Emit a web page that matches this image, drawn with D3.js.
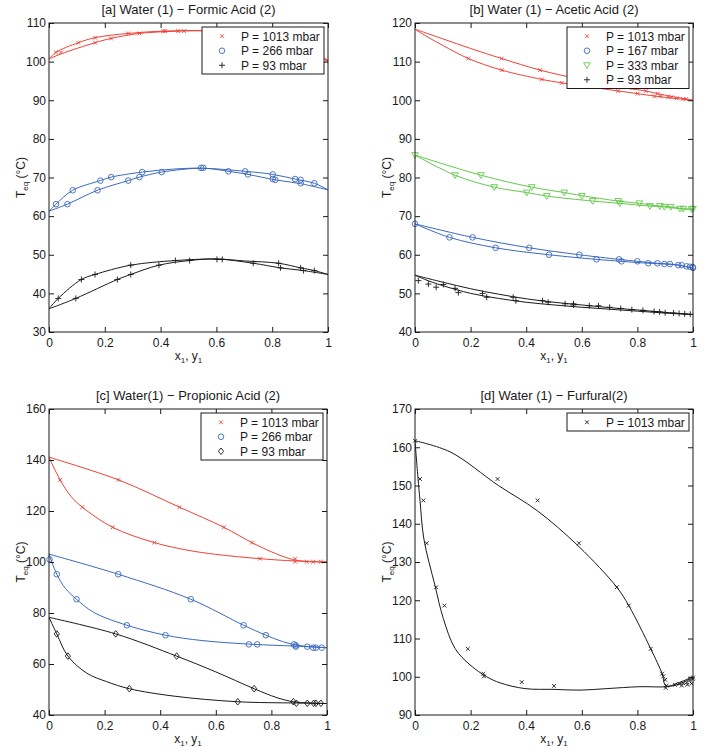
<!DOCTYPE html>
<html><head><meta charset="utf-8">
<script src="https://cdn.jsdelivr.net/npm/d3@7"></script>
<style>body{margin:0;background:#fff}svg{display:block;font-family:"Liberation Sans",Arial,Helvetica,sans-serif}</style>
</head><body><script>
// ---------- tick values ----------
const xTicks = [0, 0.2, 0.4, 0.6, 0.8, 1];
const aYTicks = [30, 40, 50, 60, 70, 80, 90, 100, 110];
const bYTicks = [40, 50, 60, 70, 80, 90, 100, 110, 120];
const cYTicks = [40, 60, 80, 100, 120, 140, 160];
const dYTicks = [90, 100, 110, 120, 130, 140, 150, 160, 170];
const titles = ["[a] Water (1) \u2212 Formic Acid (2)", "[b] Water (1) \u2212 Acetic Acid (2)",
  "[c] Water(1) \u2212 Propionic Acid (2)", "[d] Water (1) \u2212 Furfural(2)"];
const aLegend = ["P = 1013 mbar", "P = 266 mbar", "P = 93 mbar"];
const bLegend = ["P = 1013 mbar", "P = 167 mbar", "P = 333 mbar", "P = 93 mbar"];
const cLegend = ["P = 1013 mbar", "P = 266 mbar", "P = 93 mbar"];
const dLegend = ["P = 1013 mbar"];

// ---------- panel a: Water - Formic acid ----------
const aRedPts = [[0.025,102.4],[0.043,102.4],[0.105,104.9],[0.165,106.2],[0.165,104.9],[0.222,106.0],[0.284,107.3],[0.324,107.3],[0.41,107.9],[0.416,107.9],[0.463,107.9],[0.484,107.9],[0.56,107.9],[0.62,107.7],[0.7,107.1],[0.78,106.1],[0.86,104.6],[0.93,102.8],[0.993,100.3]];
const aRedDew = [[0,100.7],[0.025,102.4],[0.105,104.9],[0.165,106.2],[0.284,107.3],[0.41,107.9],[0.55,108.0],[0.7,107.5],[0.8,106.6],[0.9,104.6],[1,100.2]];
const aRedBub = [[0,100.7],[0.043,102.0],[0.165,104.9],[0.222,106.0],[0.324,107.3],[0.463,107.9],[0.55,108.0],[0.7,107.2],[0.8,106.1],[0.9,104.0],[1,100.2]];
const aBluePts = [[0.025,63.1],[0.066,63.1],[0.085,66.7],[0.174,66.7],[0.184,69.2],[0.223,70.1],[0.284,69.2],[0.324,70.1],[0.334,71.4],[0.404,71.4],[0.545,72.5],[0.553,72.5],[0.643,71.6],[0.703,71.6],[0.713,70.8],[0.802,70.8],[0.802,69.6],[0.811,69.4],[0.882,69.6],[0.902,69.4],[0.902,68.5],[0.951,68.5]];
const aBlueDew = [[0,61.3],[0.025,63.1],[0.085,66.7],[0.184,69.2],[0.223,70.1],[0.334,71.4],[0.45,72.2],[0.55,72.4],[0.703,71.6],[0.802,70.8],[0.882,69.6],[0.951,68.5],[1,66.8]];
const aBlueBub = [[0,61.3],[0.066,63.1],[0.174,66.7],[0.284,69.2],[0.324,70.1],[0.404,71.4],[0.55,72.4],[0.643,71.6],[0.713,70.8],[0.811,69.4],[0.902,68.4],[1,66.8]];
const aBlackPts = [[0.033,38.7],[0.096,38.7],[0.116,43.6],[0.165,44.9],[0.245,43.6],[0.293,47.3],[0.293,44.9],[0.394,47.3],[0.453,48.5],[0.504,48.5],[0.602,48.8],[0.621,48.8],[0.732,47.8],[0.823,47.8],[0.83,46.6],[0.902,46.6],[0.912,45.9],[0.951,45.9]];
const aBlackDew = [[0,36.0],[0.033,38.7],[0.116,43.6],[0.165,44.9],[0.293,47.3],[0.453,48.5],[0.6,48.9],[0.7,48.4],[0.823,47.8],[0.902,46.6],[0.951,45.9],[1,44.9]];
const aBlackBub = [[0,36.0],[0.096,38.7],[0.245,43.6],[0.293,44.9],[0.394,47.3],[0.504,48.5],[0.6,48.9],[0.732,47.8],[0.83,46.6],[0.912,45.9],[1,44.9]];

// ---------- panel b: Water - Acetic acid ----------
const bRedPts = [[0.192,110.8],[0.312,110.8],[0.312,107.8],[0.45,107.8],[0.456,105.4],[0.6,105.4],[0.528,104.5],[0.66,104.5],[0.731,102.4],[0.83,102.4],[0.801,101.7],[0.873,101.7],[0.861,101.0],[0.885,101.0],[0.911,100.8],[0.923,100.8],[0.941,100.5],[0.965,100.3],[0.975,100.3]];
const bRedDew = [[0,118.4],[0.1,115.9],[0.2,113.4],[0.312,110.8],[0.45,107.8],[0.6,105.3],[0.7,103.7],[0.83,102.4],[0.873,101.7],[0.93,100.9],[1,100]];
const bRedBub = [[0,118.4],[0.05,116.2],[0.1,114.2],[0.192,110.8],[0.312,107.8],[0.456,105.4],[0.528,104.5],[0.731,102.4],[0.801,101.7],[0.861,101.1],[0.92,100.6],[1,100]];
const bBluePts = [[0,68.0],[0.124,64.5],[0.207,64.5],[0.29,61.8],[0.411,61.8],[0.482,60.0],[0.591,60.0],[0.653,58.8],[0.734,58.8],[0.743,58.3],[0.8,58.3],[0.839,57.8],[0.872,57.8],[0.897,57.6],[0.917,57.6],[0.947,57.3],[0.959,57.3],[0.977,57.0],[0.989,56.9],[0.999,56.8],[1.0,56.6]];
const bBlueDew = [[0,68.0],[0.207,64.5],[0.411,61.8],[0.591,60.0],[0.734,58.8],[0.8,58.3],[0.872,57.8],[0.917,57.6],[0.959,57.2],[1,56.5]];
const bBlueBub = [[0,68.0],[0.124,64.5],[0.29,61.8],[0.482,60.0],[0.653,58.8],[0.743,58.3],[0.839,57.8],[0.897,57.6],[0.947,57.3],[1,56.5]];
const bGreenPts = [[0,85.8],[0.144,80.6],[0.237,80.6],[0.285,77.5],[0.42,77.5],[0.402,76.1],[0.537,76.1],[0.474,75.2],[0.6,75.2],[0.639,73.9],[0.731,73.9],[0.737,73.3],[0.807,73.3],[0.845,72.6],[0.881,72.6],[0.897,72.4],[0.92,72.4],[0.953,71.9],[0.965,71.9],[0.995,71.8],[1.0,71.9]];
const bGreenDew = [[0,85.8],[0.237,80.6],[0.42,77.5],[0.537,76.1],[0.6,75.3],[0.731,73.9],[0.807,73.3],[0.881,72.6],[0.92,72.4],[0.965,71.9],[1,71.8]];
const bGreenBub = [[0,85.8],[0.144,80.6],[0.285,77.5],[0.402,76.1],[0.474,75.2],[0.639,73.9],[0.737,73.3],[0.845,72.6],[0.897,72.4],[0.953,71.9],[1,71.8]];
const bBlackPts = [[0.012,53.3],[0.048,52.4],[0.076,51.6],[0.102,52.3],[0.144,51.3],[0.156,50.2],[0.243,50.0],[0.258,49.0],[0.353,49.0],[0.363,48.1],[0.459,48.1],[0.479,47.7],[0.54,47.3],[0.57,47.3],[0.57,47.0],[0.627,46.8],[0.66,46.8],[0.7,46.4],[0.74,46.1],[0.78,45.8],[0.82,45.6],[0.86,45.3],[0.88,45.2],[0.9,45.0],[0.93,44.9],[0.95,44.8],[0.97,44.7],[0.99,44.6]];
const bBlackDew = [[0,54.7],[0.1,52.9],[0.2,51.2],[0.3,49.8],[0.4,48.6],[0.5,47.7],[0.6,47.0],[0.7,46.3],[0.8,45.7],[0.9,45.1],[1,44.5]];
const bBlackBub = [[0,54.7],[0.05,53.2],[0.1,52.0],[0.2,50.0],[0.3,48.7],[0.4,47.7],[0.5,47.0],[0.6,46.4],[0.7,45.9],[0.8,45.4],[0.9,44.9],[1,44.5]];

// ---------- panel c: Water - Propionic acid ----------
const cRedPts = [[0.04,132.2],[0.25,132.2],[0.12,121.5],[0.469,121.5],[0.229,113.6],[0.629,113.6],[0.379,107.6],[0.73,107.6],[0.759,101.3],[0.885,101.3],[0.885,100.1],[0.927,100.1],[0.95,100.1],[0.978,100.1]];
const cRedDew = [[0,141.1],[0.25,132.2],[0.469,121.5],[0.629,113.6],[0.73,107.6],[0.8,104.0],[0.86,101.5],[0.9,100.5],[0.95,100.1],[1,100.0]];
const cRedBub = [[0,141.1],[0.04,132.2],[0.08,125.6],[0.12,121.5],[0.229,113.6],[0.379,107.6],[0.5,104.6],[0.6,103.0],[0.759,101.3],[0.885,100.4],[1,100]];
const cBluePts = [[0.002,101.0],[0.028,95.2],[0.249,95.2],[0.099,85.4],[0.51,85.4],[0.28,75.2],[0.7,75.2],[0.419,71.3],[0.78,71.3],[0.719,67.7],[0.749,67.7],[0.881,67.7],[0.888,67.3],[0.888,66.8],[0.929,66.8],[0.95,66.4],[0.96,66.4],[0.981,66.4]];
const cBlueDew = [[0,103.1],[0.249,95.2],[0.51,85.4],[0.7,75.2],[0.78,71.3],[0.84,68.8],[0.89,67.4],[0.95,66.7],[1,66.4]];
const cBlueBub = [[0,103.1],[0.028,95.2],[0.06,89.5],[0.099,85.4],[0.16,80.3],[0.28,75.2],[0.419,71.3],[0.55,69.2],[0.719,67.8],[0.888,67.0],[1,66.4]];
const cBlackPts = [[0.028,71.8],[0.24,71.8],[0.068,63.1],[0.459,63.1],[0.289,50.3],[0.738,50.3],[0.679,45.2],[0.879,45.2],[0.89,44.6],[0.929,44.6],[0.952,44.6],[0.96,44.6],[0.978,44.6]];
const cBlackDew = [[0,78.3],[0.24,71.8],[0.459,63.1],[0.6,56.9],[0.738,50.3],[0.82,46.8],[0.879,45.2],[0.94,44.7],[1,44.5]];
const cBlackBub = [[0,78.3],[0.028,71.8],[0.068,63.1],[0.136,56.4],[0.207,53.1],[0.289,50.3],[0.45,47.4],[0.679,45.2],[0.89,44.7],[1,44.5]];

// ---------- panel d: Water - Furfural ----------
const dPts = [[0,161.7],[0.018,151.7],[0.297,151.7],[0.03,146.1],[0.441,146.1],[0.042,134.9],[0.59,134.9],[0.076,123.4],[0.726,123.4],[0.106,118.6],[0.769,118.6],[0.19,107.3],[0.848,107.3],[0.246,100.8],[0.248,100.1],[0.384,98.6],[0.5,97.6],[0.889,100.8],[0.893,100.1],[0.9,99.2],[0.905,97.7],[0.902,97.1],[0.935,97.9],[0.951,98.1],[0.965,98.3],[0.977,98.5],[0.989,99.0],[0.999,99.4],[1.0,99.8],[0.96,97.7],[0.98,97.9],[0.995,98.2]];
const dDew = [[0,161.7],[0.126,158.8],[0.3,150.0],[0.44,143.4],[0.59,134.0],[0.726,123.4],[0.769,118.6],[0.848,107.3],[0.889,100.8],[0.903,97.6],[0.95,98.5],[1,100]];
const dBub = [[0,161.7],[0.011,151.7],[0.018,146.1],[0.032,136.0],[0.072,123.8],[0.102,115.2],[0.144,107.4],[0.198,103.1],[0.258,100.0],[0.306,98.4],[0.396,96.9],[0.5,96.7],[0.594,96.5],[0.69,96.9],[0.809,97.4],[0.905,97.4],[0.95,98.1],[1,99.8]];

// ---------- colours ----------
const RED = "#ef4136", BLUE = "#3a68bf", GREEN = "#63c94a", BLACK = "#1a1a1a";

const panels = [
  {L:49, R:328, T:23, B:332, yDom:[30,110], yTicks:aYTicks, title:titles[0], series:[
    {pts:aRedPts, dew:aRedDew, bub:aRedBub, color:RED, marker:"x", label:aLegend[0]},
    {pts:aBluePts, dew:aBlueDew, bub:aBlueBub, color:BLUE, marker:"o", label:aLegend[1]},
    {pts:aBlackPts, dew:aBlackDew, bub:aBlackBub, color:BLACK, marker:"+", label:aLegend[2]}]},
  {L:415, R:693, T:23, B:332, yDom:[40,120], yTicks:bYTicks, title:titles[1], series:[
    {pts:bRedPts, dew:bRedDew, bub:bRedBub, color:RED, marker:"x", label:bLegend[0]},
    {pts:bBluePts, dew:bBlueDew, bub:bBlueBub, color:BLUE, marker:"o", label:bLegend[1]},
    {pts:bGreenPts, dew:bGreenDew, bub:bGreenBub, color:GREEN, marker:"v", label:bLegend[2]},
    {pts:bBlackPts, dew:bBlackDew, bub:bBlackBub, color:BLACK, marker:"+", label:bLegend[3]}]},
  {L:49, R:327, T:409, B:715, yDom:[40,160], yTicks:cYTicks, title:titles[2], series:[
    {pts:cRedPts, dew:cRedDew, bub:cRedBub, color:RED, marker:"x", label:cLegend[0]},
    {pts:cBluePts, dew:cBlueDew, bub:cBlueBub, color:BLUE, marker:"o", label:cLegend[1]},
    {pts:cBlackPts, dew:cBlackDew, bub:cBlackBub, color:BLACK, marker:"d", label:cLegend[2]}]},
  {L:415, R:693, T:409, B:715, yDom:[90,170], yTicks:dYTicks, title:titles[3], series:[
    {pts:dPts, dew:dDew, bub:dBub, color:BLACK, marker:"x", label:dLegend[0]}]}
];

const svg = d3.select("body").append("svg").attr("width", 705).attr("height", 747);

function drawMarker(sel, type, color) {
  if (type === "o") {
    sel.append("circle").attr("r", 2.8).attr("fill", "none").attr("stroke", color).attr("stroke-width", 0.9);
    return;
  }
  let d;
  if (type === "x") { const s = 1.9; d = `M${-s},${-s}L${s},${s}M${-s},${s}L${s},${-s}`; }
  else if (type === "+") { const s = 3; d = `M${-s},0L${s},0M0,${-s}L0,${s}`; }
  else if (type === "v") { const s = 3.3; d = `M${-s},${-s*0.75}L${s},${-s*0.75}L0,${s}Z`; }
  else if (type === "d") { const s = 3.3; d = `M0,${-s}L${s*0.8},0L0,${s}L${-s*0.8},0Z`; }
  sel.append("path").attr("d", d).attr("fill", "none").attr("stroke", color).attr("stroke-width", 0.9);
}

const fmt = v => (v === 0 ? "0" : v === 1 ? "1" : String(v));

panels.forEach(p => {
  const x = d3.scaleLinear().domain([0, 1]).range([p.L, p.R]);
  const y = d3.scaleLinear().domain(p.yDom).range([p.B, p.T]);
  const g = svg.append("g");
  const clipId = "clip" + p.L + "_" + p.T;
  g.append("clipPath").attr("id", clipId).append("rect")
    .attr("x", p.L).attr("y", p.T).attr("width", p.R - p.L).attr("height", p.B - p.T);
  const dg = g.append("g").attr("clip-path", `url(#${clipId})`);
  const line = d3.line().x(d => x(d[0])).y(d => y(d[1])).curve(d3.curveCatmullRom.alpha(0.5));

  p.series.forEach(s => {
    [s.dew, s.bub].forEach(c => {
      dg.append("path").attr("d", line(c)).attr("fill", "none").attr("stroke", s.color).attr("stroke-width", 1);
    });
  });
  p.series.forEach(s => {
    s.pts.forEach(pt => {
      const m = g.append("g").attr("transform", `translate(${x(pt[0])},${y(pt[1])})`);
      drawMarker(m, s.marker, s.color);
    });
  });

  // axes (ticks inward, box)
  g.append("g").attr("transform", `translate(0,${p.B})`)
    .call(d3.axisBottom(x).tickValues(xTicks).tickFormat(fmt).tickSizeInner(-5).tickSizeOuter(0).tickPadding(6.5))
    .call(a => a.select(".domain").remove());
  g.append("g").attr("transform", `translate(0,${p.T})`)
    .call(d3.axisTop(x).tickValues(xTicks).tickFormat("").tickSizeInner(-5).tickSizeOuter(0))
    .call(a => a.select(".domain").remove());
  g.append("g").attr("transform", `translate(${p.L},0)`)
    .call(d3.axisLeft(y).tickValues(p.yTicks).tickFormat(fmt).tickSizeInner(-5).tickSizeOuter(0).tickPadding(3))
    .call(a => a.select(".domain").remove());
  g.append("g").attr("transform", `translate(${p.R},0)`)
    .call(d3.axisRight(y).tickValues(p.yTicks).tickFormat("").tickSizeInner(-5).tickSizeOuter(0))
    .call(a => a.select(".domain").remove());
  g.selectAll(".tick text").attr("font-size", 12).attr("fill", "#1a1a1a")
    .attr("font-family", '"Liberation Sans",Arial,sans-serif');
  g.selectAll(".tick line").attr("stroke", "#1a1a1a");
  g.append("rect").attr("x", p.L).attr("y", p.T).attr("width", p.R - p.L).attr("height", p.B - p.T)
    .attr("fill", "none").attr("stroke", "#1a1a1a").attr("stroke-width", 1);

  // legend
  const n = p.series.length;
  const lw = 122, rowH = 14.5, lh = n * rowH + 3.5;
  const lx = p.R - 4 - lw, ly = p.T + 4;
  const lg = g.append("g");
  lg.append("rect").attr("x", lx).attr("y", ly).attr("width", lw).attr("height", lh)
    .attr("fill", "#fff").attr("stroke", "#1a1a1a").attr("stroke-width", 1);
  p.series.forEach((s, i) => {
    const cy = ly + 2 + rowH * (i + 0.5);
    drawMarker(lg.append("g").attr("transform", `translate(${lx + 20},${cy})`), s.marker, s.color);
    lg.append("text").attr("x", lx + 39).attr("y", cy).attr("dy", "0.36em")
      .attr("font-size", 12).attr("fill", "#1a1a1a").text(s.label);
  });

  // title
  g.append("text").attr("x", (p.L + p.R) / 2).attr("y", p.T - 9.5).attr("text-anchor", "middle")
    .attr("font-size", 13).attr("fill", "#1a1a1a").text(p.title);

  // x label
  const xl = g.append("text").attr("x", (p.L + p.R) / 2).attr("y", p.B + 27.5).attr("text-anchor", "middle")
    .attr("font-size", 12).attr("fill", "#1a1a1a");
  xl.append("tspan").text("x");
  xl.append("tspan").attr("font-size", 8).attr("dy", 3).text("1");
  xl.append("tspan").attr("dy", -3).text(", y");
  xl.append("tspan").attr("font-size", 8).attr("dy", 3).text("1");

  // y label
  const yl = g.append("text").attr("transform", `translate(${p.L - 24},${(p.T + p.B) / 2}) rotate(-90)`)
    .attr("text-anchor", "middle").attr("font-size", 12).attr("fill", "#1a1a1a");
  yl.append("tspan").text("T");
  yl.append("tspan").attr("font-size", 8).attr("dy", 3).text("eq");
  yl.append("tspan").attr("dy", -3).text(" (\u00B0C)");
});
</script></body></html>
